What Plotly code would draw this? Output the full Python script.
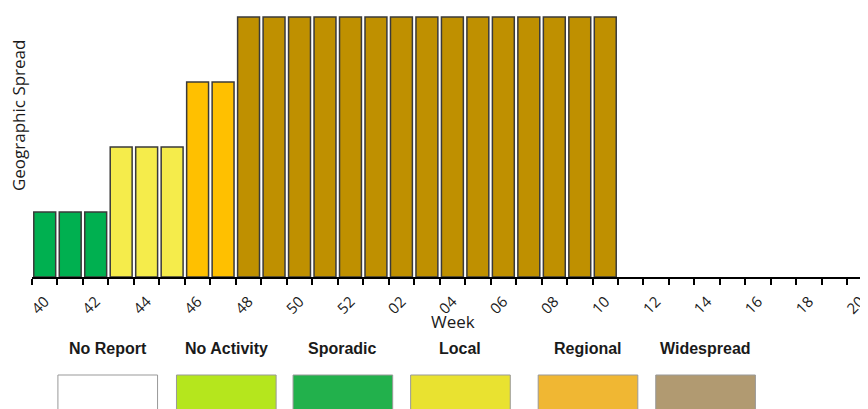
import plotly.graph_objects as go

# ---- data ----
weeks = [str(w) for w in range(40, 53)] + [f"{w:02d}" for w in range(1, 21)]
levels = [1, 1, 1, 2, 2, 2, 3, 3] + [4] * 15 + [None] * 10
tick_labels = [w if int(w) % 2 == 0 else "" for w in weeks]

level_colors = {1: "#00B050", 2: "#F5EC4B", 3: "#FFC000", 4: "#BF9000"}
legend_names = ["No Report", "No Activity", "Sporadic", "Local", "Regional", "Widespread"]
legend_colors = ["#FFFFFF", "#B5E61D", "#22B14C", "#E9E230", "#F0B733", "#B19A71"]

OFF = 8  # page body margin
W, H = 868 - OFF, 409 - OFF
L, R, T, B = 32 - OFF, 0, 15 - OFF, 132
pw, ph = W - L - R, H - T - B

def px(x):
    return (x - OFF - L) / pw

def py(y):
    return (H - B - (y - OFF)) / ph

bar_colors = [level_colors.get(v, "#FFFFFF") for v in levels]

fig = go.Figure()
fig.add_trace(go.Bar(
    x=weeks, y=levels,
    marker=dict(color=bar_colors, line=dict(color="#3a3a3a", width=1.5)),
    width=0.86,
    hoverinfo="x+y",
))

# legend shapes & labels
legend_centers = [108, 227, 344, 462, 590, 708]
box_w = 100
for name, col, cx in zip(legend_names, legend_colors, legend_centers):
    fig.add_shape(type="rect", xref="paper", yref="paper",
                  x0=px(cx - box_w / 2), x1=px(cx + box_w / 2),
                  y0=py(375), y1=py(430),
                  fillcolor=col, line=dict(color="#999999", width=1))
    fig.add_annotation(xref="paper", yref="paper", x=px(cx), y=py(348),
                       text=f"<b>{name}</b>", showarrow=False,
                       xanchor="center", yanchor="middle",
                       font=dict(family="Liberation Sans, Arial", size=16, color="#1a1a1a"))

# y title as annotation
fig.add_annotation(xref="paper", yref="paper", x=px(19), y=py(115),
                   text="Geographic Spread", textangle=-90, showarrow=False,
                   xanchor="center", yanchor="middle",
                   font=dict(family="Open Sans", size=17, color="#1a1a1a"))
# x title
fig.add_annotation(xref="paper", yref="paper", x=px(455), y=py(321),
                   text="Week", showarrow=False,
                   xanchor="center", yanchor="middle",
                   font=dict(family="Open Sans", size=17, color="#1a1a1a"))

fig.update_layout(
    width=W, height=H,
    margin=dict(l=L, r=R, t=T, b=B, pad=0),
    paper_bgcolor="white", plot_bgcolor="white",
    showlegend=False,
    bargap=0.14,
    font=dict(family="Open Sans", color="#1a1a1a"),
)
fig.update_xaxes(
    type="category", categoryorder="array", categoryarray=weeks,
    tickmode="array", tickvals=weeks, ticktext=tick_labels,
    tickson="boundaries", ticks="outside", ticklen=6, tickwidth=2, tickcolor="black",
    tickangle=-45, tickfont=dict(family="Open Sans", size=15, color="#1a1a1a"),
    ticklabelstandoff=8,
    showline=True, linecolor="black", linewidth=2,
    showgrid=False, zeroline=False,
    range=[-0.5, -0.5 + pw / 25.57],
)
fig.update_yaxes(range=[0, 4.03], visible=False, showgrid=False, zeroline=False)

fig.write_html("out.html")
